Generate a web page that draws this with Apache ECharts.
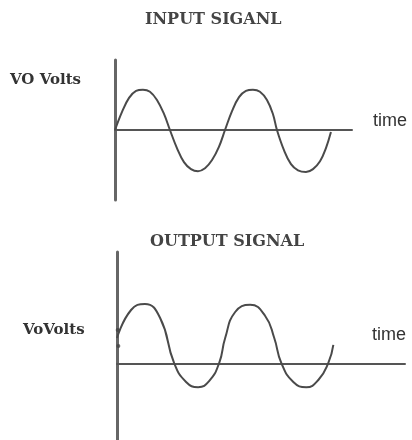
<!DOCTYPE html>
<html>
<head>
<meta charset="utf-8">
<script src="https://cdn.jsdelivr.net/npm/echarts@6/dist/echarts.min.js"></script>
<style>
body{margin:0;background:#fff;}
#main{width:412px;height:440px;}
</style>
</head>
<body>
<div id="main"></div>
<script>
// input signal (time units, volts)
var inT=[0,0.52,1.04,1.56,2.07,2.59,3.11,3.63,4.07,4.59,5.11,5.63,6.15,6.67,7.19,7.7,8.15,8.67,9.19,9.7,10.22,10.74,11.26,11.7,12,12.52,13.04,13.56,14.15,14.67,15.19,15.63,16.0];
var inV=[0,0.44,0.78,0.95,0.98,0.93,0.73,0.39,0,-0.44,-0.78,-0.95,-1.0,-0.93,-0.73,-0.41,0,0.46,0.8,0.95,0.98,0.93,0.73,0.39,0,-0.49,-0.83,-0.98,-1.02,-0.95,-0.76,-0.44,-0.05];
// output signal (shifted up, a bit noisy)
var outT=[0,1.04,2.07,3.19,4.22,5.11,6.0,6.81,7.56,8.0,8.74,9.85,10.96,11.63,12.15,13.04,14.0,14.89,15.63,16.0];
var outV=[0.65,1.35,1.5,1.15,0.03,-0.45,-0.58,-0.43,0.03,0.65,1.3,1.48,1.2,0.65,0.03,-0.45,-0.58,-0.4,0.03,0.48];
// little specks at the start of the output trace
var noiseT=[0.05,0.1];
var noiseV=[0.85,0.45];

function pairs(t,v){
	var d=[];
	for (var i=0;i<t.length;i++){
		d.push([t[i],v[i]]);
	}
	return d;
}

var myChart=echarts.init(document.getElementById('main'));
var axisCol='#555';
var lineCol='#4a4a4a';
function xAx(idx,max){
	return {gridIndex:idx,type:'value',min:0,max:max,
		axisLine:{show:true,onZero:true,lineStyle:{color:axisCol,width:2}},
		axisTick:{show:false},axisLabel:{show:false},splitLine:{show:false}};
}
function yAx(idx,min,max){
	return {gridIndex:idx,type:'value',min:min,max:max,
		axisLine:{show:true,lineStyle:{color:'#666',width:3}},
		axisTick:{show:false},axisLabel:{show:false},splitLine:{show:false}};
}
var serif='"DejaVu Serif", serif';
var sans='"Liberation Sans", sans-serif';
var option={
	animation:false,
	backgroundColor:'#fff',
	grid:[
		{left:115,top:60,width:237,height:140},
		{left:117,top:252,width:288,height:188}
	],
	xAxis:[xAx(0,17.56),xAx(1,21.3)],
	yAxis:[yAx(0,-1.7,1.7),yAx(1,-1.9,2.8)],
	graphic:[
		{type:'text',left:145,top:12,style:{text:'INPUT SIGANL',font:'bold 16px '+serif,fill:'#444'}},
		{type:'text',left:150,top:234,style:{text:'OUTPUT SIGNAL',font:'bold 16px '+serif,fill:'#444'}},
		{type:'text',left:10,top:73,style:{text:'VO Volts',font:'bold 15px '+serif,fill:'#333'}},
		{type:'text',left:23,top:323,style:{text:'VoVolts',font:'bold 15px '+serif,fill:'#333'}},
		{type:'text',left:373,top:112,style:{text:'time',font:'18px '+sans,fill:'#333'}},
		{type:'text',left:372,top:326,style:{text:'time',font:'18px '+sans,fill:'#333'}}
	],
	series:[
		{type:'line',xAxisIndex:0,yAxisIndex:0,data:pairs(inT,inV),smooth:0.4,showSymbol:false,
			lineStyle:{color:lineCol,width:2}},
		{type:'line',xAxisIndex:1,yAxisIndex:1,data:pairs(outT,outV),smooth:0.5,showSymbol:false,
			lineStyle:{color:lineCol,width:2}},
		{type:'scatter',xAxisIndex:1,yAxisIndex:1,data:pairs(noiseT,noiseV),symbolSize:4,
			itemStyle:{color:'#444'}}
	]
};
myChart.setOption(option);
</script>
</body>
</html>
